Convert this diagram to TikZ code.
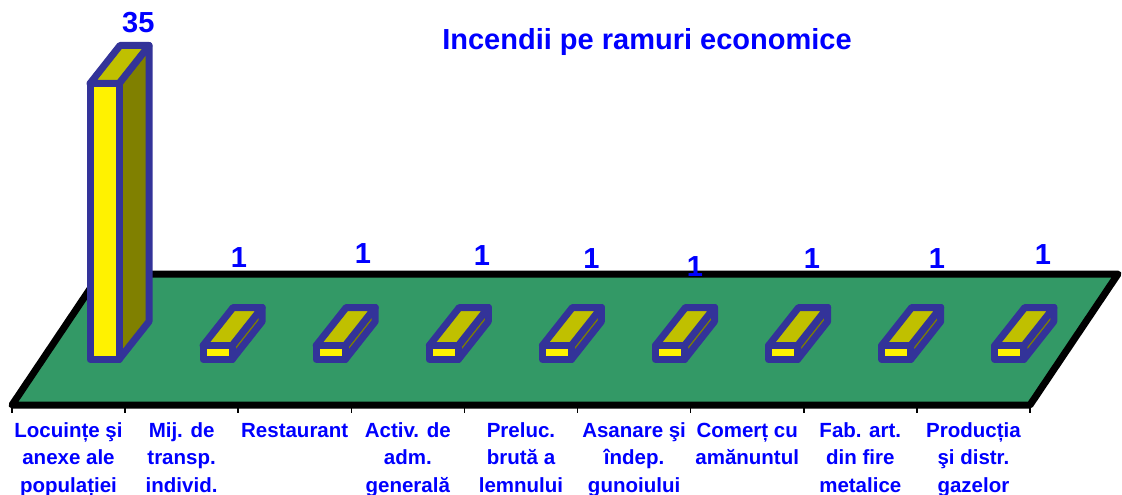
\documentclass[tikz,border=0pt]{standalone}
\usepackage{fontspec}
\setmainfont{Liberation Sans}
\usepackage{xcolor}
\usepackage{tikz}
\usetikzlibrary{positioning}

\definecolor{floorgreen}{HTML}{339966}
\definecolor{barblue}{HTML}{333399}
\definecolor{topolive}{HTML}{C0C000}
\definecolor{sideolive}{HTML}{808000}
\definecolor{textblue}{HTML}{0000FF}

% one 3D bar: #1 = centre of the front face, #2 = top of the front face
\newcommand{\econbar}[2]{%
	\draw[barface, fill=sideolive] ({#1+14.5},#2) -- ++(30,-38) -- ({#1+44.5},321.5) -- ({#1+14.5},359.5) -- cycle;
	\draw[barface, fill=topolive] ({#1-14.5},#2) -- ({#1+14.5},#2) -- ++(30,-38) -- ++(-29,0) -- cycle;
	\draw[barface, fill=yellow] ({#1-14.5},#2) rectangle ({#1+14.5},359.5);
}

\begin{document}
\begin{tikzpicture}[x=1pt, y=-1pt,
	barface/.style={draw=barblue, line width=7pt, line join=round},
	floorline/.style={draw=black, line width=7pt, line join=round},
	cat/.style={text=textblue, font=\fontsize{20.5}{27.5}\selectfont\bfseries, align=center, anchor=base, inner sep=0pt},
	val/.style={text=textblue, font=\fontsize{29}{32}\selectfont\bfseries, anchor=base, inner sep=0pt}]
	\useasboundingbox (0,0) rectangle (1122,495);
	
	% Floor of the chart
	\draw[floorline, fill=floorgreen] (12,405) -- (1030,405) -- (1118,274) -- (100,274) -- cycle;
	\foreach \x in {12,125.1,238.2,351.3,464.4,577.6,690.7,803.8,916.9,1030}
		\draw[line width=1.5pt] (\x,406) -- (\x,413);
	
	% Bars
	\econbar{104.5}{83.5}
	\econbar{217.6}{345.5}
	\econbar{330.7}{345.5}
	\econbar{443.8}{345.5}
	\econbar{556.9}{345.5}
	\econbar{670.0}{345.5}
	\econbar{783.1}{345.5}
	\econbar{896.2}{345.5}
	\econbar{1009.3}{345.5}
	
	% Title and values
	\node (title) [val] at (647,50) {Incendii pe ramuri economice};
	\node (val1) [val] at (138.3,33) {35};
	\node (val2) [val] at (239,267) {1};
	\node (val3) [val] at (363,263) {1};
	\node (val4) [val] at (482,265) {1};
	\node (val5) [val] at (591.5,268) {1};
	\node (val6) [val] at (695,276) {1};
	\node (val7) [val] at (812,268) {1};
	\node (val8) [val] at (937,268) {1};
	\node (val9) [val] at (1043,264) {1};
	
	% Category labels (base = last line)
	\node (cat1) [cat] at (68.5,492) {Locuințe şi\\anexe ale\\populației};
	\node (cat2) [cat] at (181.6,492) {Mij. de\\transp.\\individ.};
	\node (cat3) [cat] at (294.7,437) {Restaurant};
	\node (cat4) [cat] at (407.8,492) {Activ. de\\adm.\\generală};
	\node (cat5) [cat] at (521.0,492) {Preluc.\\brută a\\lemnului};
	\node (cat6) [cat] at (634.1,492) {Asanare şi\\îndep.\\gunoiului};
	\node (cat7) [cat] at (747.2,464.5) {Comerț cu\\amănuntul};
	\node (cat8) [cat] at (860.3,492) {Fab. art.\\din fire\\metalice};
	\node (cat9) [cat] at (973.4,492) {Producția\\şi distr.\\gazelor};
\end{tikzpicture}
\end{document}
